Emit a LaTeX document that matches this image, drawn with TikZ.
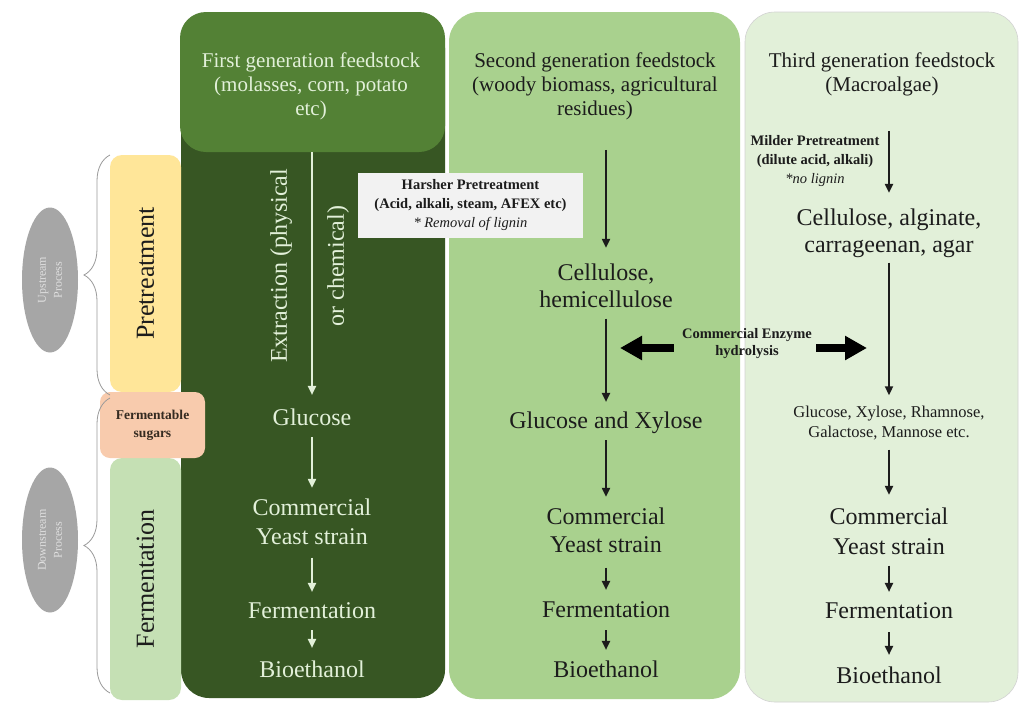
\documentclass[tikz,border=0pt]{standalone}
\usepackage{fontspec}
\setmainfont{Liberation Serif}
\usetikzlibrary{arrows.meta,decorations.pathreplacing,shapes.geometric}

\definecolor{gDark}{HTML}{375623}
\definecolor{gMid}{HTML}{538135}
\definecolor{gLight}{HTML}{A9D18E}
\definecolor{gPale}{HTML}{E2F0D9}
\definecolor{yPre}{HTML}{FFE699}
\definecolor{oSug}{HTML}{F8CBAD}
\definecolor{gFer}{HTML}{C5E0B4}
\definecolor{grEll}{HTML}{A6A6A6}
\definecolor{txtW}{HTML}{E2F0D9}
\definecolor{boxG}{HTML}{F2F2F2}
\definecolor{ink}{HTML}{1C1C1C}
\definecolor{braceC}{HTML}{9A9A9A}

\tikzset{
  big/.style={font=\fontsize{24}{29}\selectfont, align=center, inner sep=0pt},
  oneline/.style={big, text height=16.5pt, text depth=5.2pt},
  headtxt/.style={font=\fontsize{21}{24}\selectfont, align=center, inner sep=0pt},
  note/.style={font=\bfseries\fontsize{14.5}{19}\selectfont, align=center, inner sep=0pt, text=ink},
  warr/.style={draw=txtW, line width=2pt, -{Triangle[length=9pt,width=8pt]}},
  barr/.style={draw=ink, line width=2pt, -{Triangle[length=9pt,width=8pt]}},
  blockarr/.style={draw=black, line width=8pt, -{Triangle[length=22pt,width=23pt]}},
  sidebox/.style={rounded corners=12pt, inner sep=0pt, rotate=90,
    font=\fontsize{26}{30}\selectfont, text=ink},
  procell/.style={ellipse, fill=grEll, inner sep=0pt, rotate=90,
    minimum width=145pt, minimum height=56pt, align=center,
    font=\fontsize{12}{16}\selectfont, text=gray!25},
  curly/.style={draw=braceC, line width=0.8pt,
    decorate, decoration={brace, amplitude=26pt}},
}

\begin{document}
\begin{tikzpicture}[x=1pt,y=-1pt]
\useasboundingbox (0,0) rectangle (1021,707);
\fill[white] (0,0) rectangle (1021,707);

% ---------- column backgrounds ----------
\fill[gDark, rounded corners=28pt] (181,20) rectangle (445,698);
\node[fill=gMid, rounded corners=26pt, minimum width=265pt, minimum height=140pt,
      inner sep=0pt] (hdr1) at (312.5,82) {};
\node[fill=gLight, rounded corners=30pt, minimum width=291pt, minimum height=687pt,
      inner sep=0pt] (col2) at (594.5,355.5) {};
\node[fill=gPale, draw=gray!35, line width=0.6pt, rounded corners=30pt,
      minimum width=273pt, minimum height=690pt, inner sep=0pt] (col3) at (881.5,357) {};

% ---------- left-hand stage labels ----------
\node[sidebox, fill=yPre, minimum width=237pt, minimum height=71pt] (pre) at (145.5,273.5) {Pretreatment};
\node[sidebox, fill=gFer, minimum width=242pt, minimum height=71pt] (fer) at (145.5,579) {Fermentation};
\node[fill=oSug, rounded corners=10pt, minimum width=105pt, minimum height=66pt,
      inner sep=0pt, align=center, text=ink!85!brown,
      font=\bfseries\fontsize{13.5}{18}\selectfont] (sug) at (152.5,425) {Fermentable\\sugars};

\node[procell] (up) at (50,280) {Upstream\\Process};
\node[procell] (down) at (50,540) {Downstream\\Process};

\coordinate (upTop) at (110,155);
\coordinate (upBot) at (110,395);
\coordinate (dnTop) at (110,398);
\coordinate (dnBot) at (110,693);
\draw[curly] (upBot) -- (upTop);
\draw[curly] (dnBot) -- (dnTop);

% ---------- first generation ----------
\node[headtxt, text=txtW] (h1) at (311,86) {First generation feedstock\\(molasses, corn, potato\\etc)};
\node[big, text=txtW, rotate=90, font=\fontsize{24}{57}\selectfont] (ext1) at (309.5,266)
      {Extraction (physical\\or chemical)};
\node[oneline, text=txtW] (glu1) at (312,420) {Glucose};
\node[big, text=txtW] (yst1) at (312,521.5) {Commercial\\Yeast strain};
\node[oneline, text=txtW] (fer1) at (312,613) {Fermentation};
\node[oneline, text=txtW] (bio1) at (312,672) {Bioethanol};

\draw[warr, shorten >=14pt] (hdr1.south -| glu1) -- (glu1);
\draw[warr, shorten <=6pt, shorten >=10.5pt] (glu1) -- (yst1);
\draw[warr, shorten <=13pt, shorten >=10pt] (yst1) -- (fer1);
\draw[warr, shorten <=6pt, shorten >=13pt] (fer1) -- (bio1);

% ---------- second generation ----------
\node[headtxt, text=ink] (h2) at (595,86) {Second generation feedstock\\(woody biomass, agricultural\\residues)};
\node[note, fill=boxG, minimum width=225pt, minimum height=65pt] (harsh) at (470.5,205.5)
      {Harsher Pretreatment\\(Acid, alkali, steam, AFEX etc)\\{\mdseries\itshape * Removal of lignin}};
\node[big, text=ink, font=\fontsize{24}{27}\selectfont] (cel2) at (606,285.5) {Cellulose,\\hemicellulose};
\node[oneline, text=ink] (gx2) at (606,423) {Glucose and Xylose};
\node[big, text=ink, font=\fontsize{24}{28}\selectfont] (yst2) at (606,530) {Commercial\\Yeast strain};
\node[oneline, text=ink] (fer2) at (606,612) {Fermentation};
\node[oneline, text=ink] (bio2) at (606,672) {Bioethanol};

\draw[barr, shorten <=30pt, shorten >=15.5pt] (h2.south -| cel2) -- (cel2);
\draw[barr, shorten <=11pt, shorten >=10pt] (cel2) -- (gx2);
\draw[barr, shorten <=6pt, shorten >=10.5pt] (gx2) -- (yst2);
\draw[barr, shorten <=15pt, shorten >=11pt] (yst2) -- (fer2);
\draw[barr, shorten <=7pt, shorten >=11pt] (fer2) -- (bio2);

% ---------- third generation ----------
\node[headtxt, text=ink] (h3) at (882,74) {Third generation feedstock\\(Macroalgae)};
\node[note] (mild) at (815,161) {Milder Pretreatment\\(dilute acid, alkali)\\{\mdseries\itshape *no lignin}};
\node[big, text=ink, font=\fontsize{24}{27}\selectfont] (cel3) at (889,233) {Cellulose, alginate,\\carrageenan, agar};
\node[big, text=ink, font=\fontsize{16.5}{20}\selectfont] (sug3) at (889,423)
      {Glucose, Xylose, Rhamnose,\\Galactose, Mannose etc.};
\node[big, text=ink, font=\fontsize{24}{30}\selectfont] (yst3) at (889,531) {Commercial\\Yeast strain};
\node[oneline, text=ink] (fer3) at (889,613) {Fermentation};
\node[oneline, text=ink] (bio3) at (889,678) {Bioethanol};

\draw[barr, shorten <=35pt, shorten >=15.5pt] (h3.south -| cel3) -- (cel3);
\draw[barr, shorten <=5pt, shorten >=10.5pt] (cel3) -- (sug3);
\draw[barr, shorten <=9.5pt, shorten >=12.5pt] (sug3) -- (yst3);
\draw[barr, shorten <=11pt, shorten >=10pt] (yst3) -- (fer3);
\draw[barr, shorten <=8pt, shorten >=12pt] (fer3) -- (bio3);

% ---------- enzyme hydrolysis ----------
\node[note, font=\bfseries\fontsize{14.5}{17}\selectfont] (enz) at (747,344) {Commercial Enzyme\\hydrolysis};
\coordinate (enzL) at (620,348);
\coordinate (enzR) at (867,348);
\draw[blockarr, shorten <=8pt] (enz.west |- enzL) -- (enzL);
\draw[blockarr, shorten <=4pt] (enz.east |- enzR) -- (enzR);
\end{tikzpicture}
\end{document}
